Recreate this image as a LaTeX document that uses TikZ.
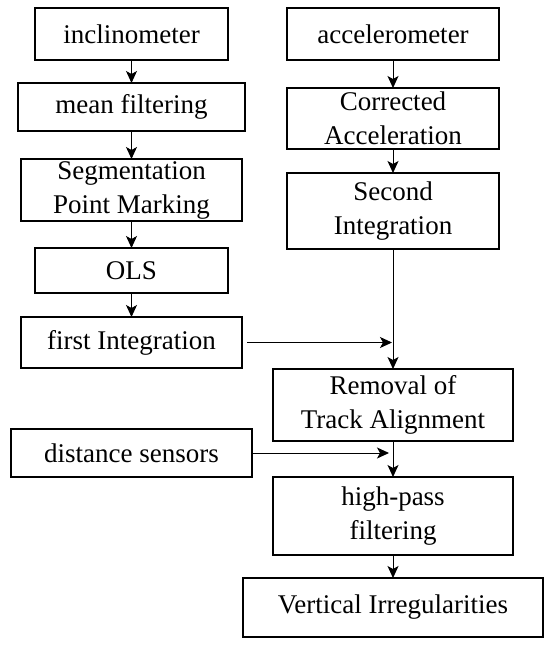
\documentclass[tikz,border=0pt]{standalone}
\usepackage{fontspec}
\setmainfont{Liberation Serif}
\usetikzlibrary{positioning, arrows.meta}
\tikzset{
    box_style/.style={
        rectangle,
        draw=black,
        line width=2pt,
        fill=white,
        align=center,
        inner sep=0pt,
        outer sep=0pt,
        font=\rmfamily\fontsize{27}{34}\selectfont
    },
    arrow_style/.style={
        -{Stealth[length=12pt, width=11pt, inset=3pt]},
        line width=1pt
    }
}

\begin{document}
\begin{tikzpicture}[x=1pt, y=1pt, node distance=25pt]
    \useasboundingbox (0,0) rectangle (550,-645);
    % left column
    \node[box_style, minimum width=193pt, minimum height=52pt] (incl) at (131.5,-34) {inclinometer};
    \node[box_style, minimum width=227pt, minimum height=48pt, below=23pt of incl] (mean) {mean filtering};
    \node[box_style, minimum width=221pt, minimum height=62pt, below=28pt of mean] (seg) {Segmentation\\Point Marking};
    \node[box_style, minimum width=193pt, minimum height=45pt, below=27pt of seg] (ols) {OLS};
    \node[box_style, minimum width=221pt, minimum height=51pt, below=24pt of ols] (first) {first Integration};
    \node[box_style, minimum width=241pt, minimum height=48pt, below=61pt of first] (dist) {distance sensors};

    % right column
    \node[box_style, minimum width=212pt, minimum height=52pt] (acc) at (393,-34) {accelerometer};
    \node[box_style, minimum width=212pt, minimum height=61pt, below=28pt of acc] (corr) {Corrected\\Acceleration};
    \node[box_style, minimum width=212pt, minimum height=76pt, below=24pt of corr] (second) {Second\\Integration};
    \node[box_style, minimum width=240pt, minimum height=72pt, below=120pt of second] (removal) {Removal of\\Track Alignment};
    \node[box_style, minimum width=240pt, minimum height=78pt, below=36pt of removal] (high) {high-pass\\filtering};
    \node[box_style, minimum width=300pt, minimum height=59pt, below=23pt of high] (vert) {Vertical Irregularities};

    % joints on the right trunk
    \coordinate (j1) at (second.south |- first.east);
    \coordinate (j2) at (removal.south |- dist.east);

    % arrows
    \draw[arrow_style] (incl) -- (mean);
    \draw[arrow_style] (mean) -- (seg);
    \draw[arrow_style] (seg) -- (ols);
    \draw[arrow_style] (ols) -- (first);
    \draw[arrow_style] (acc) -- (corr);
    \draw[arrow_style] (corr) -- (second);
    \draw[arrow_style] (second) -- (removal);
    \draw[arrow_style] ([xshift=5pt]first.east) -- ([xshift=-1pt]j1);
    \draw[arrow_style] (dist.east) -- ([xshift=-4pt]j2);
    \draw[arrow_style] (removal) -- (high);
    \draw[arrow_style] (high) -- (vert);
\end{tikzpicture}
\end{document}
